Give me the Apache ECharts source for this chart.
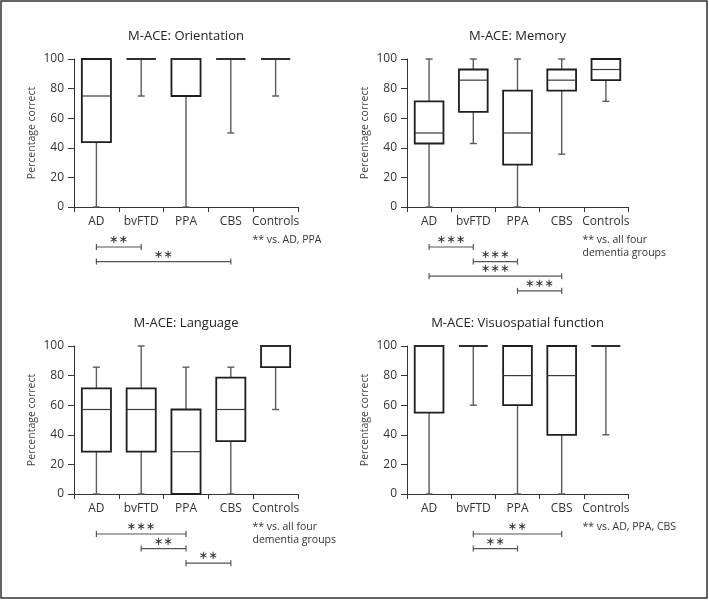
<!DOCTYPE html>
<html>
<head>
<meta charset="utf-8">
<script src="https://cdn.jsdelivr.net/npm/echarts@6/dist/echarts.min.js"></script>
<style>
html,body{margin:0;padding:0;background:#fff;}
#c{width:709px;height:600px;}
</style>
</head>
<body>
<div id="c"></div>
<script>
// ---- data ----
const categories = ['AD', 'bvFTD', 'PPA', 'CBS', 'Controls'];
const titles = ['M-ACE: Orientation', 'M-ACE: Memory', 'M-ACE: Language', 'M-ACE: Visuospatial function'];
const yTicks = [0, 20, 40, 60, 80, 100];
// each entry: [min, Q1, median, Q3, max] (percentage correct)
const orientation = [[0, 43.8, 75, 100, 100], [75, 100, 100, 100, 100], [0, 75, 100, 100, 100], [50, 100, 100, 100, 100], [75, 100, 100, 100, 100]];
const memory = [[0, 42.9, 50, 71.4, 100], [42.9, 64.3, 85.7, 92.9, 100], [0, 28.6, 50, 78.6, 100], [35.7, 78.6, 85.7, 92.9, 100], [71.4, 85.7, 92.9, 100, 100]];
const language = [[0, 28.6, 57.1, 71.4, 85.7], [0, 28.6, 57.1, 71.4, 100], [0, 0, 28.6, 57.1, 85.7], [0, 35.7, 57.1, 78.6, 85.7], [57.1, 85.7, 100, 100, 100]];
const visuospatial = [[0, 55, 100, 100, 100], [60, 100, 100, 100, 100], [0, 60, 80, 100, 100], [0, 40, 80, 100, 100], [40, 100, 100, 100, 100]];
// significance comparisons: [group A, group B, stars]
const orientationSig = [['AD', 'bvFTD', '∗∗'], ['AD', 'CBS', '∗∗']];
const memorySig = [['AD', 'bvFTD', '∗∗∗'], ['bvFTD', 'PPA', '∗∗∗'], ['AD', 'CBS', '∗∗∗'], ['PPA', 'CBS', '∗∗∗']];
const languageSig = [['AD', 'PPA', '∗∗∗'], ['bvFTD', 'PPA', '∗∗'], ['PPA', 'CBS', '∗∗']];
const visuospatialSig = [['bvFTD', 'CBS', '∗∗'], ['bvFTD', 'PPA', '∗∗']];
const notes = ['** vs. AD, PPA', '** vs. all four\ndementia groups', '** vs. all four\ndementia groups', '** vs. AD, PPA, CBS'];

// ---- layout ----
const panels = [
  {data: orientation, sig: orientationSig, grid: {left: 74, top: 59, width: 224, height: 148}},
  {data: memory, sig: memorySig, grid: {left: 407, top: 59, width: 221, height: 148}},
  {data: language, sig: languageSig, grid: {left: 74, top: 346, width: 224, height: 148}},
  {data: visuospatial, sig: visuospatialSig, grid: {left: 407, top: 346, width: 221, height: 148}}
];
const FONT = '"Open Sans", "Noto Sans", sans-serif';

function boxRender(params, api) {
  const x = api.value(0);
  const pMin = api.coord([x, api.value(1)]);
  const pQ1 = api.coord([x, api.value(2)]);
  const pMed = api.coord([x, api.value(3)]);
  const pQ3 = api.coord([x, api.value(4)]);
  const pMax = api.coord([x, api.value(5)]);
  const bw = api.size([1, 0])[0] * 0.65;
  const cx = pMed[0];
  const cap = 3.5;
  const wst = {stroke: '#5a5a5a', lineWidth: 1.4, fill: null};
  const children = [
    {type: 'line', shape: {x1: cx, y1: pQ3[1], x2: cx, y2: pMax[1]}, style: wst},
    {type: 'line', shape: {x1: cx, y1: pQ1[1], x2: cx, y2: pMin[1]}, style: wst},
    {type: 'line', shape: {x1: cx - cap, y1: pMax[1], x2: cx + cap, y2: pMax[1]}, style: wst},
    {type: 'line', shape: {x1: cx - cap, y1: pMin[1], x2: cx + cap, y2: pMin[1]}, style: wst},
    {type: 'rect', shape: {x: cx - bw / 2, y: pQ3[1], width: bw, height: pQ1[1] - pQ3[1]},
      style: {stroke: '#1e1e1e', lineWidth: 1.8, fill: '#fff'}},
    {type: 'line', shape: {x1: cx - bw / 2, y1: pMed[1], x2: cx + bw / 2, y2: pMed[1]},
      style: {stroke: '#3a3a3a', lineWidth: 1.2}}
  ];
  return {type: 'group', children: children};
}

function bracketRender(sig) {
  return function (params, api) {
    const a = api.coord([api.value(0), 0]);
    const b = api.coord([api.value(1), 0]);
    const y = a[1] + 40 + 14.6 * api.value(2);
    const st = {stroke: '#555', lineWidth: 1.2};
    return {type: 'group', children: [
      {type: 'line', shape: {x1: a[0], y1: y, x2: b[0], y2: y}, style: st},
      {type: 'line', shape: {x1: a[0], y1: y - 3, x2: a[0], y2: y + 3}, style: st},
      {type: 'line', shape: {x1: b[0], y1: y - 3, x2: b[0], y2: y + 3}, style: st},
      {type: 'text', style: {text: sig[params.dataIndex][2], x: (a[0] + b[0]) / 2, y: y - 7,
        align: 'center', verticalAlign: 'middle', font: '11.5px "DejaVu Sans"', fill: '#333'}}
    ]};
  };
}

const grids = [], xAxes = [], yAxes = [], series = [], graphics = [];
panels.forEach(function (p, i) {
  grids.push(Object.assign({containLabel: false}, p.grid));
  xAxes.push({
    type: 'category', gridIndex: i, data: categories, boundaryGap: true,
    axisLine: {lineStyle: {color: '#333', width: 1}},
    axisTick: {show: true, length: 5, alignWithLabel: false, lineStyle: {color: '#333'}},
    axisLabel: {fontSize: 12, color: '#333', margin: 9, fontFamily: FONT, interval: 0},
    splitLine: {show: false}
  });
  yAxes.push({
    type: 'value', gridIndex: i, min: yTicks[0], max: yTicks[yTicks.length - 1], interval: yTicks[1] - yTicks[0],
    name: 'Percentage correct', nameLocation: 'middle', nameGap: 36, nameRotate: 90,
    nameTextStyle: {fontSize: 10.5, color: '#444', fontFamily: FONT},
    axisLine: {show: true, lineStyle: {color: '#333', width: 1}},
    axisTick: {show: true, length: 6, lineStyle: {color: '#333'}},
    axisLabel: {fontSize: 12, color: '#333', margin: 10, fontFamily: FONT},
    splitLine: {show: false}
  });
  series.push({
    type: 'custom', xAxisIndex: i, yAxisIndex: i, clip: false,
    renderItem: boxRender,
    encode: {x: 0, y: [1, 2, 3, 4, 5]},
    data: p.data.map(function (d, k) { return [k].concat(d); }),
    silent: true
  });
  series.push({
    type: 'custom', xAxisIndex: i, yAxisIndex: i, clip: false,
    renderItem: bracketRender(p.sig),
    encode: {x: [0, 1]},
    data: p.sig.map(function (s, r) { return [categories.indexOf(s[0]), categories.indexOf(s[1]), r]; }),
    silent: true
  });
  const g = p.grid;
  graphics.push({
    type: 'text', left: null, x: g.left + g.width / 2, y: g.top - 23,
    style: {text: titles[i], align: 'center', verticalAlign: 'middle', font: '13px ' + FONT, fill: '#222'}
  });
  graphics.push({
    type: 'text', x: g.left + g.width - 45.5, y: g.top + g.height + 27,
    style: {text: notes[i], align: 'left', verticalAlign: 'top', font: '10.5px ' + FONT, fill: '#333', lineHeight: 13}
  });
});
graphics.push({
  type: 'rect', shape: {x: 1, y: 1, width: 706, height: 597},
  style: {stroke: '#333', lineWidth: 1.5, fill: null}, z: 10
});

const chart = echarts.init(document.getElementById('c'), null, {renderer: 'canvas'});
chart.setOption({
  animation: false,
  backgroundColor: '#fff',
  grid: grids,
  xAxis: xAxes,
  yAxis: yAxes,
  series: series,
  graphic: graphics
});
</script>
</body>
</html>
